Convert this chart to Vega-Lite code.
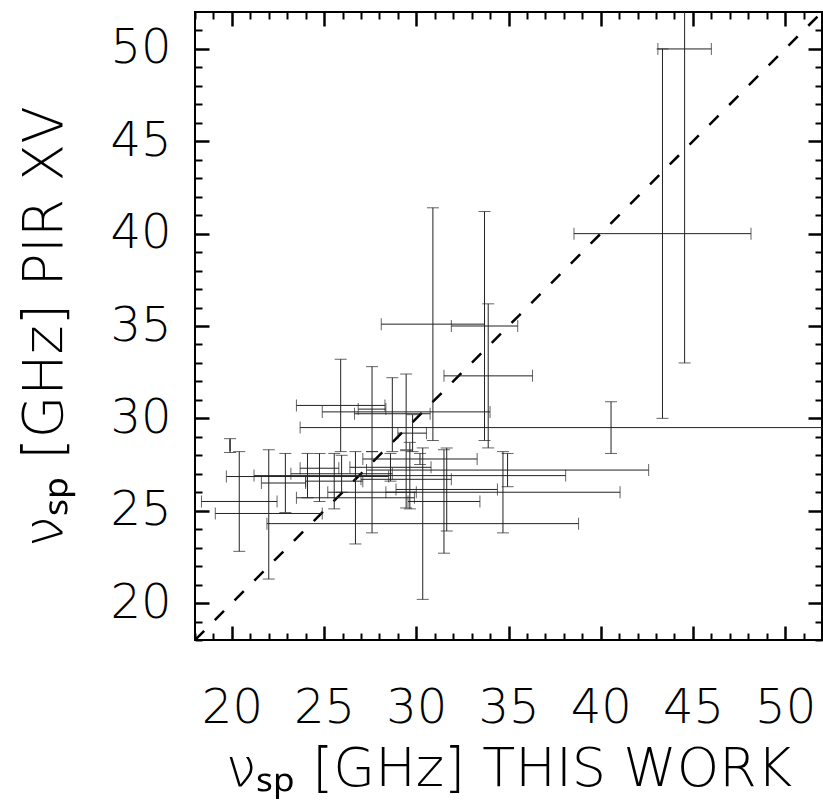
{
  "$schema": "https://vega.github.io/schema/vega-lite/v6.json",
  "width": 627,
  "height": 628,
  "autosize": {"type": "none"},
  "padding": {"left": 195, "top": 12, "right": 1, "bottom": 164},
  "background": "white",
  "config": {"view": {"stroke": "black", "strokeWidth": 2}, "font": "DejaVu Sans"},
  "datasets": {
    "pts": [
      {"x": 44.55, "xlo": 43.1, "xhi": 46.0, "y": 50.0, "ylo": 33.0, "yhi": 67.0},
      {"x": 43.35, "xlo": 38.55, "xhi": 48.15, "y": 40.0, "ylo": 30.0, "yhi": 50.0},
      {"x": 40.56, "xlo": 23.7, "xhi": 57.4, "y": 29.5, "ylo": 28.1, "yhi": 30.9},
      {"x": 30.9, "xlo": 28.1, "xhi": 33.7, "y": 35.1, "ylo": 28.8, "yhi": 41.4},
      {"x": 33.7, "xlo": 31.9, "xhi": 35.5, "y": 35.0, "ylo": 28.8, "yhi": 41.2},
      {"x": 33.9, "xlo": 31.5, "xhi": 36.3, "y": 32.3, "ylo": 28.4, "yhi": 36.2},
      {"x": 30.35, "xlo": 21.9, "xhi": 38.8, "y": 24.3, "ylo": 20.2, "yhi": 28.4},
      {"x": 25.9, "xlo": 23.5, "xhi": 28.3, "y": 30.7, "ylo": 28.2, "yhi": 33.2},
      {"x": 29.45, "xlo": 24.9, "xhi": 34.0, "y": 30.35, "ylo": 28.3, "yhi": 32.4},
      {"x": 27.6, "xlo": 26.85, "xhi": 28.35, "y": 30.5, "ylo": 28.2, "yhi": 32.8},
      {"x": 20.4, "xlo": 18.35, "xhi": 22.45, "y": 25.5, "ylo": 22.8, "yhi": 28.2},
      {"x": 22.0, "xlo": 19.1, "xhi": 24.9, "y": 24.85, "ylo": 21.3, "yhi": 28.3},
      {"x": 28.7, "xlo": 26.65, "xhi": 30.75, "y": 30.25, "ylo": 28.2, "yhi": 32.2},
      {"x": 29.8, "xlo": 29.0, "xhi": 30.55, "y": 29.2, "ylo": 28.2, "yhi": 30.2},
      {"x": 19.9, "xlo": 19.9, "xhi": 19.9, "y": 28.55, "ylo": 28.15, "yhi": 28.9},
      {"x": 31.5, "xlo": 29.55, "xhi": 33.45, "y": 25.5, "ylo": 22.7, "yhi": 28.3},
      {"x": 31.65, "xlo": 28.9, "xhi": 34.4, "y": 26.15, "ylo": 23.9, "yhi": 28.4},
      {"x": 34.7, "xlo": 28.35, "xhi": 41.05, "y": 26.0, "ylo": 23.8, "yhi": 28.2},
      {"x": 34.95, "xlo": 27.3, "xhi": 42.6, "y": 27.2, "ylo": 26.3, "yhi": 28.1},
      {"x": 26.7, "xlo": 23.5, "xhi": 29.9, "y": 25.7, "ylo": 23.2, "yhi": 28.2},
      {"x": 27.6, "xlo": 25.2, "xhi": 30.0, "y": 26.0, "ylo": 23.8, "yhi": 28.2},
      {"x": 22.9, "xlo": 21.6, "xhi": 24.0, "y": 26.5, "ylo": 24.9, "yhi": 28.1},
      {"x": 29.65, "xlo": 21.2, "xhi": 38.1, "y": 26.9, "ylo": 25.1, "yhi": 28.7},
      {"x": 30.2, "xlo": 27.1, "xhi": 33.3, "y": 27.8, "ylo": 27.5, "yhi": 28.1},
      {"x": 24.75, "xlo": 23.7, "xhi": 25.8, "y": 27.3, "ylo": 25.5, "yhi": 28.1},
      {"x": 24.1, "xlo": 19.7, "xhi": 28.5, "y": 26.85, "ylo": 25.7, "yhi": 28.1},
      {"x": 25.55, "xlo": 24.0, "xhi": 27.1, "y": 26.6, "ylo": 25.1, "yhi": 28.1},
      {"x": 29.45, "xlo": 27.0, "xhi": 31.9, "y": 26.7, "ylo": 25.15, "yhi": 28.25},
      {"x": 28.6, "xlo": 26.4, "xhi": 30.8, "y": 27.35, "ylo": 26.6, "yhi": 28.1},
      {"x": 25.95, "xlo": 23.2, "xhi": 28.7, "y": 27.0, "ylo": 26.0, "yhi": 28.0}
    ],
    "diag": [{"v": 18}, {"v": 52}]
  },
  "layer": [
    {
      "data": {"name": "diag"},
      "mark": {"type": "line", "strokeDash": [13, 15], "strokeWidth": 2.5, "color": "black", "clip": true},
      "encoding": {
        "x": {"field": "v", "type": "quantitative", "scale": {"domain": [18, 52], "nice": false, "zero": false},
          "axis": {"orient": "top", "values": [20, 25, 30, 35, 40, 45, 50], "tickSize": -14, "tickWidth": 2.5,
            "tickColor": "black", "labels": false, "domain": false, "grid": false, "title": null}},
        "y": {"field": "v", "type": "quantitative", "scale": {"domain": [18, 52], "nice": false, "zero": false},
          "axis": {"orient": "right", "values": [20, 25, 30, 35, 40, 45, 50], "tickSize": -14, "tickWidth": 2.5,
            "tickColor": "black", "labels": false, "domain": false, "grid": false, "title": null}}
      }
    },
    {
      "data": {"name": "pts"},
      "mark": {"type": "rule", "color": "#222", "strokeWidth": 1, "clip": true},
      "encoding": {
        "x": {"field": "xlo", "type": "quantitative", "scale": {"domain": [18, 52], "nice": false, "zero": false},
          "axis": {"orient": "bottom", "values": [20, 25, 30, 35, 40, 45, 50], "tickSize": -14, "tickWidth": 2.5,
            "tickColor": "black",
            "labelFont": "DejaVu Sans", "labelFontSize": 48, "labelFontWeight": 200, "labelColor": "black",
            "labelPadding": 58, "labelOverlap": false, "labelFlush": false, "labelBound": false,
            "domain": false, "grid": false,
            "title": "νₛₚ [GHz] THIS WORK", "titleFont": "DejaVu Sans", "titleFontSize": 54, "titleFontWeight": 200, "titleColor": "black", "titlePadding": 10}},
        "x2": {"field": "xhi"},
        "y": {"field": "y", "type": "quantitative", "scale": {"domain": [18, 52], "nice": false, "zero": false},
          "axis": {"orient": "left", "values": [20, 25, 30, 35, 40, 45, 50], "tickSize": -14, "tickWidth": 2.5,
            "tickColor": "black",
            "labelFont": "DejaVu Sans", "labelFontSize": 48, "labelFontWeight": 200, "labelColor": "black",
            "labelPadding": 38, "labelOverlap": false, "labelFlush": false, "labelBound": false,
            "domain": false, "grid": false,
            "title": "νₛₚ [GHz] PIR XV", "titleFont": "DejaVu Sans", "titleFontSize": 55, "titleFontWeight": 200, "titleColor": "black", "titlePadding": 36}}
      }
    },
    {
      "data": {"name": "pts"},
      "mark": {"type": "rule", "color": "#222", "strokeWidth": 1, "clip": true},
      "encoding": {
        "x": {"field": "x", "type": "quantitative",
          "axis": {"orient": "bottom", "values": [18, 19, 21, 22, 23, 24, 26, 27, 28, 29, 31, 32, 33, 34, 36, 37, 38, 39, 41, 42, 43, 44, 46, 47, 48, 49, 51], "tickSize": -7, "tickWidth": 2,
            "tickColor": "black", "labels": false, "domain": false, "grid": false, "title": null}},
        "y": {"field": "ylo", "type": "quantitative",
          "axis": {"orient": "left", "values": [18, 19, 21, 22, 23, 24, 26, 27, 28, 29, 31, 32, 33, 34, 36, 37, 38, 39, 41, 42, 43, 44, 46, 47, 48, 49, 51], "tickSize": -7, "tickWidth": 2,
            "tickColor": "black", "labels": false, "domain": false, "grid": false, "title": null}},
        "y2": {"field": "yhi"}
      }
    },
    {
      "data": {"name": "pts"},
      "mark": {"type": "tick", "orient": "vertical", "color": "#222", "thickness": 1, "size": 12, "clip": true},
      "encoding": {
        "x": {"field": "xlo", "type": "quantitative",
          "axis": {"orient": "top", "values": [18, 19, 21, 22, 23, 24, 26, 27, 28, 29, 31, 32, 33, 34, 36, 37, 38, 39, 41, 42, 43, 44, 46, 47, 48, 49, 51], "tickSize": -7, "tickWidth": 2,
            "tickColor": "black", "labels": false, "domain": false, "grid": false, "title": null}},
        "y": {"field": "y", "type": "quantitative",
          "axis": {"orient": "right", "values": [18, 19, 21, 22, 23, 24, 26, 27, 28, 29, 31, 32, 33, 34, 36, 37, 38, 39, 41, 42, 43, 44, 46, 47, 48, 49, 51], "tickSize": -7, "tickWidth": 2,
            "tickColor": "black", "labels": false, "domain": false, "grid": false, "title": null}}
      }
    },
    {
      "data": {"name": "pts"},
      "mark": {"type": "tick", "orient": "vertical", "color": "#222", "thickness": 1, "size": 12, "clip": true},
      "encoding": {
        "x": {"field": "xhi", "type": "quantitative", "axis": null},
        "y": {"field": "y", "type": "quantitative", "axis": null}
      }
    },
    {
      "data": {"name": "pts"},
      "mark": {"type": "tick", "orient": "horizontal", "color": "#222", "thickness": 1, "size": 12, "clip": true},
      "encoding": {
        "x": {"field": "x", "type": "quantitative", "axis": null},
        "y": {"field": "ylo", "type": "quantitative", "axis": null}
      }
    },
    {
      "data": {"name": "pts"},
      "mark": {"type": "tick", "orient": "horizontal", "color": "#222", "thickness": 1, "size": 12, "clip": true},
      "encoding": {
        "x": {"field": "x", "type": "quantitative", "axis": null},
        "y": {"field": "yhi", "type": "quantitative", "axis": null}
      }
    }
  ],
  "resolve": {"axis": {"x": "independent", "y": "independent"}}
}
